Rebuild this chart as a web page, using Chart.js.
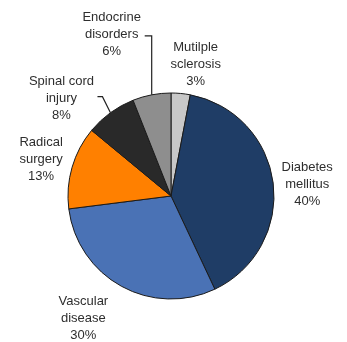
<!DOCTYPE html>
<html>
<head>
<meta charset="utf-8">
<script src="https://cdn.jsdelivr.net/npm/chart.js@4"></script>
<style>
  body { margin: 0; background: #fff; }
  #wrap { width: 347px; height: 342px; }
</style>
</head>
<body>
<div id="wrap"><canvas id="grafico_pizza"></canvas></div>
<script>
// dados do grafico (sentido horario a partir do topo)
var nomes = [["Mutilple", "sclerosis"], ["Diabetes", "mellitus"], ["Vascular", "disease"], ["Radical", "surgery"], ["Spinal cord", "injury"], ["Endocrine", "disorders"]];
var porcentagens = [3, 40, 30, 13, 8, 6];
var cores = ["#c8c8c8", "#1f3d66", "#4a72b5", "#ff8000", "#292929", "#8e8e8e"];

// posicao do texto em relacao ao ponto da borda (meio da fatia)
var deslocTexto = [[15, -29], [34, 1], [-38, 32], [-31, -8], [-49, -14], [-40, -60]];
// linhas guia: [cotovelo dx, dy, comprimento horizontal]
var guias = [null, null, null, null, [-8, -16, -5], [0, -59, -7]];

var pluginRotulos = {
  id: 'rotulos',
  afterDatasetsDraw: function (chart) {
    var ctx = chart.ctx;
    var meta = chart.getDatasetMeta(0);
    ctx.save();
    ctx.font = '13px "Liberation Sans", Arial, sans-serif';
    ctx.fillStyle = '#2e2e2e';
    ctx.textAlign = 'center';
    ctx.textBaseline = 'middle';
    meta.data.forEach(function (arco, i) {
      var meio = (arco.startAngle + arco.endAngle) / 2;
      var bx = arco.x + Math.cos(meio) * arco.outerRadius;
      var by = arco.y + Math.sin(meio) * arco.outerRadius;
      var cx = bx + deslocTexto[i][0];
      var cy = by + deslocTexto[i][1];
      var linhas = nomes[i].concat([porcentagens[i] + '%']);
      linhas.forEach(function (t, k) {
        ctx.fillText(t, cx, cy + (k - 1) * 17);
      });
      if (guias[i]) {
        var ex = bx + guias[i][0];
        var ey = by + guias[i][1];
        ctx.strokeStyle = '#222';
        ctx.lineWidth = 1.2;
        ctx.beginPath();
        ctx.moveTo(bx, by);
        ctx.lineTo(ex, ey);
        ctx.lineTo(ex + guias[i][2], ey);
        ctx.stroke();
      }
    });
    ctx.restore();
  }
};

var config = {
  type: 'pie',
  data: {
    labels: nomes.map(function (n) { return n.join(' '); }),
    datasets: [{
      data: porcentagens,
      backgroundColor: cores,
      borderColor: '#1a1a1a',
      borderWidth: 1
    }]
  },
  options: {
    responsive: true,
    maintainAspectRatio: false,
    animation: false,
    radius: 103,
    layout: { padding: { left: 0, right: 5, top: 50, bottom: 0 } },
    plugins: {
      legend: { display: false },
      tooltip: { enabled: false }
    }
  },
  plugins: [pluginRotulos]
};

var chart_pizza = new Chart(document.getElementById('grafico_pizza'), config);
</script>
</body>
</html>
